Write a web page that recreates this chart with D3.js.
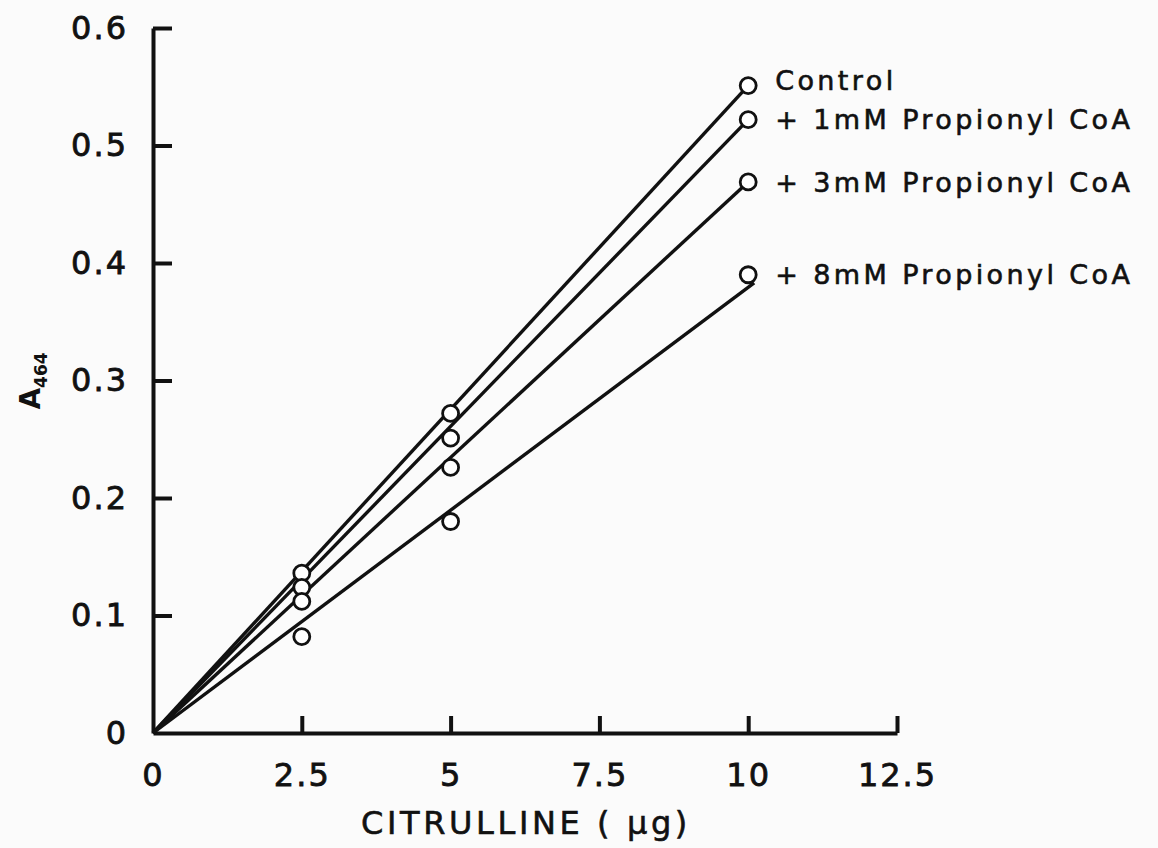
<!DOCTYPE html>
<html>
<head>
<meta charset="utf-8">
<script src="https://cdn.jsdelivr.net/npm/d3@7"></script>
<style>
	body { margin: 0; background: #fbfbfb; }
	svg { display: block; }
	.axis path, .axis line { stroke: #111; stroke-width: 4; }
	.axis text { font-family: "DejaVu Sans", sans-serif; font-size: 32px; fill: #111; stroke: #111; stroke-width: 0.8; letter-spacing: 2px; }
	.fit { stroke: #111; stroke-width: 3.4; fill: none; }
	.pt { fill: #fff; stroke: #111; stroke-width: 2.8; }
	.lbl { font-family: "DejaVu Sans", sans-serif; font-size: 27px; fill: #111; stroke: #111; stroke-width: 0.6; letter-spacing: 3.4px; }
</style>
</head>
<body>
<svg id="chart" width="1158" height="848"></svg>
<script>
const doses = [2.5, 5, 10];
const seriesNames = ["Control", "+ 1mM Propionyl CoA", "+ 3mM Propionyl CoA", "+ 8mM Propionyl CoA"];
const controlVals = [0.136, 0.272, 0.551];
const mm1Vals = [0.124, 0.251, 0.522];
const mm3Vals = [0.112, 0.226, 0.469];
const mm8Vals = [0.082, 0.180, 0.390];
// fitted lines all start at the origin, these are their far ends
const fitEndX = [10, 10, 10, 10.1];
const fitEndY = [0.551, 0.522, 0.469, 0.383];
const xTicks = [0, 2.5, 5, 7.5, 10, 12.5];
const yTicks = [0, 0.1, 0.2, 0.3, 0.4, 0.5, 0.6];

const allVals = [controlVals, mm1Vals, mm3Vals, mm8Vals];

const svg = d3.select("#chart");

const x = d3.scaleLinear().domain([0, 12.5]).range([153, 897]);
const y = d3.scaleLinear().domain([0, 0.6]).range([733, 28]);

// axes, ticks point inward
svg.append("g")
	.attr("class", "axis")
	.attr("transform", `translate(${x(0)},0)`)
	.call(d3.axisLeft(y).tickValues(yTicks).tickSizeInner(-19).tickSizeOuter(0).tickPadding(25)
		.tickFormat((d) => (d === 0 ? "0" : d.toFixed(1))))
	.call((g) => g.selectAll(".tick").filter((d) => d === 0).select("line").remove());

svg.append("g")
	.attr("class", "axis")
	.attr("transform", `translate(0,${y(0)})`)
	.call(d3.axisBottom(x).tickValues(xTicks).tickSizeInner(-17).tickSizeOuter(0).tickPadding(30)
		.tickFormat((d) => String(d)))
	.call((g) => g.selectAll(".tick").filter((d) => d === 0).select("line").remove());

// fit lines
const lineGen = d3.line().x((d) => x(d[0])).y((d) => y(d[1]));
fitEndX.forEach((ex, i) => {
	svg.append("path")
		.attr("class", "fit")
		.attr("d", lineGen([[0, 0], [ex, fitEndY[i]]]));
});

// data points
allVals.forEach((vals) => {
	svg.selectAll(null)
		.data(vals.map((v, j) => [doses[j], v]))
		.join("circle")
		.attr("class", "pt")
		.attr("r", 8)
		.attr("cx", (d) => x(d[0]))
		.attr("cy", (d) => y(d[1]));
});

// series labels next to the last point
seriesNames.forEach((name, i) => {
	svg.append("text")
		.attr("class", "lbl")
		.attr("x", x(10) + 27)
		.attr("y", y(allVals[i][2]) + (i === 0 ? -5 : 0))
		.attr("dy", "0.36em")
		.text(name);
});

// axis titles
svg.append("text")
	.attr("x", 526)
	.attr("y", 834)
	.attr("text-anchor", "middle")
	.attr("font-family", "DejaVu Sans, sans-serif")
	.attr("font-size", 32)
	.attr("letter-spacing", 3.6)
	.attr("fill", "#111")
	.attr("stroke", "#111")
	.attr("stroke-width", 0.6)
	.text("CITRULLINE ( \u03bcg)");

const yTitle = svg.append("text")
	.attr("transform", "translate(40,381) rotate(-90)")
	.attr("text-anchor", "middle")
	.attr("font-family", "DejaVu Sans, sans-serif")
	.attr("font-weight", "bold")
	.attr("fill", "#111");
yTitle.append("tspan").attr("font-size", 28).text("A");
yTitle.append("tspan").attr("font-size", 17).attr("dy", 7).text("464");
</script>
</body>
</html>
